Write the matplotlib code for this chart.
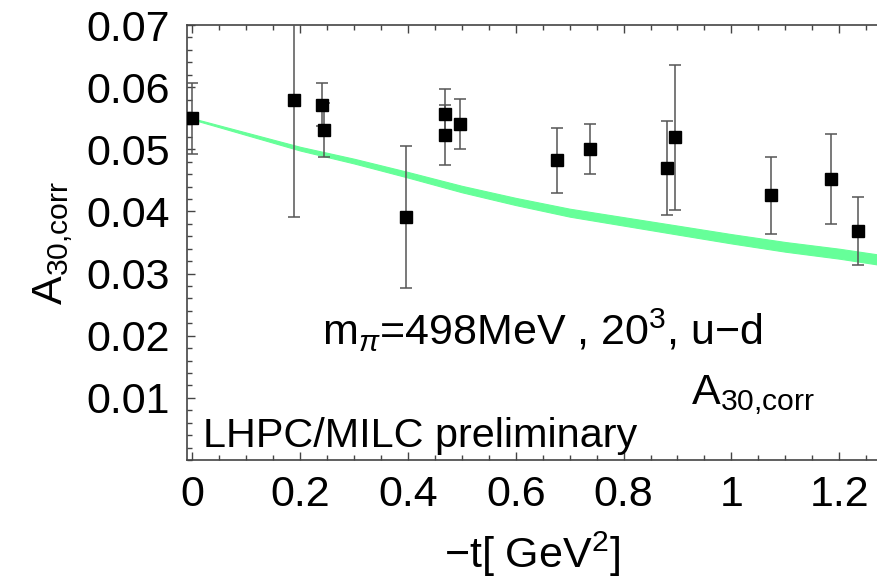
import matplotlib
matplotlib.use("Agg")
import matplotlib.pyplot as plt
from matplotlib.ticker import MultipleLocator

plt.rcParams['font.family'] = ['Liberation Sans', 'DejaVu Sans']
plt.rcParams['mathtext.fontset'] = 'custom'
plt.rcParams['mathtext.rm'] = 'Liberation Sans'
plt.rcParams['mathtext.it'] = 'Liberation Sans:italic'

# lattice data points: -t [GeV^2], A_30,corr, error
t_vals = [0.0, 0.188, 0.240, 0.244, 0.397, 0.468, 0.468, 0.497, 0.676, 0.737,
          0.881, 0.895, 1.074, 1.185, 1.235]
a_vals = [0.0550, 0.0580, 0.0572, 0.0531, 0.0391, 0.0557, 0.0523, 0.0541, 0.0482,
          0.0501, 0.0470, 0.0519, 0.0426, 0.0452, 0.0368]
a_err = [0.0057, 0.0189, 0.0034, 0.0043, 0.0115, 0.0040, 0.0048, 0.0040, 0.0053,
         0.0040, 0.0075, 0.0117, 0.0062, 0.0073, 0.0055]

# fit band (centre and half width)
band_t = [0.0, 0.1, 0.2, 0.3, 0.4, 0.5, 0.6, 0.7, 0.8, 0.9, 1.0, 1.1, 1.2, 1.3]
band_c = [0.0549, 0.0525, 0.0501, 0.0481, 0.0459, 0.0436, 0.0416, 0.0398, 0.0384,
          0.0370, 0.0356, 0.0343, 0.0332, 0.0319]
band_hw = [0.0001, 0.0002, 0.0003, 0.00038, 0.00045, 0.00052, 0.00058, 0.00064,
           0.00068, 0.00072, 0.00075, 0.00078, 0.0008, 0.00082]

fs = 31
fig = plt.figure(figsize=(8.78, 5.78), dpi=100)
ax = fig.add_axes([0.2127, 0.2042, 0.7873, 0.7525])

lo = [c - h for c, h in zip(band_c, band_hw)]
hi = [c + h for c, h in zip(band_c, band_hw)]
ax.fill_between(band_t, lo, hi, color='#66ff99', lw=0.8, edgecolor='#66ff99', zorder=2)

ax.errorbar(t_vals, a_vals, yerr=a_err, fmt='none', ecolor='#555555', elinewidth=1.1,
            capsize=4, capthick=1.1, zorder=3)
ax.plot(t_vals, a_vals, 's', color='black', ms=8.5, zorder=4)

ax.set_xlim(-0.0104, 1.272)
ax.set_ylim(0, 0.07)
ax.xaxis.set_major_locator(MultipleLocator(0.2))
ax.xaxis.set_minor_locator(MultipleLocator(0.05))
ax.yaxis.set_major_locator(MultipleLocator(0.01))
ax.yaxis.set_minor_locator(MultipleLocator(0.002))
ax.set_xticks([0, 0.2, 0.4, 0.6, 0.8, 1.0, 1.2])
ax.set_xticklabels(['0', '0.2', '0.4', '0.6', '0.8', '1', '1.2'])
ax.set_yticks([0.01, 0.02, 0.03, 0.04, 0.05, 0.06, 0.07])
ax.set_yticklabels(['0.01', '0.02', '0.03', '0.04', '0.05', '0.06', '0.07'])

ax.tick_params(which='both', direction='in', top=True, right=False, color='#444444',
               labelsize=fs, width=1)
ax.tick_params(which='major', length=6)
ax.tick_params(which='minor', length=3.5)
ax.tick_params(axis='x', pad=11)
ax.tick_params(axis='y', pad=12)
for s in ['left', 'bottom', 'top']:
    ax.spines[s].set_color('#444444')
    ax.spines[s].set_linewidth(1.2)
ax.spines['right'].set_visible(False)

ax.set_xlabel('\u2212t[ GeV$^2$]', fontsize=fs, labelpad=10)
ax.set_ylabel(r'A$_{\mathrm{30{,}corr}}$', fontsize=fs, labelpad=8)

ax.text(0.649, 0.0209, 'm$_{\\pi}$=498MeV , 20$^3$, u\u2212d', fontsize=fs,
        ha='center', va='center')
ax.text(1.04, 0.0105, r'A$_{\mathrm{30{,}corr}}$', fontsize=fs, ha='center', va='center')
ax.text(0.02, 0.0021, 'LHPC/MILC preliminary', fontsize=fs * 0.96, ha='left',
        va='baseline')

fig.savefig('out.png', dpi=100)
